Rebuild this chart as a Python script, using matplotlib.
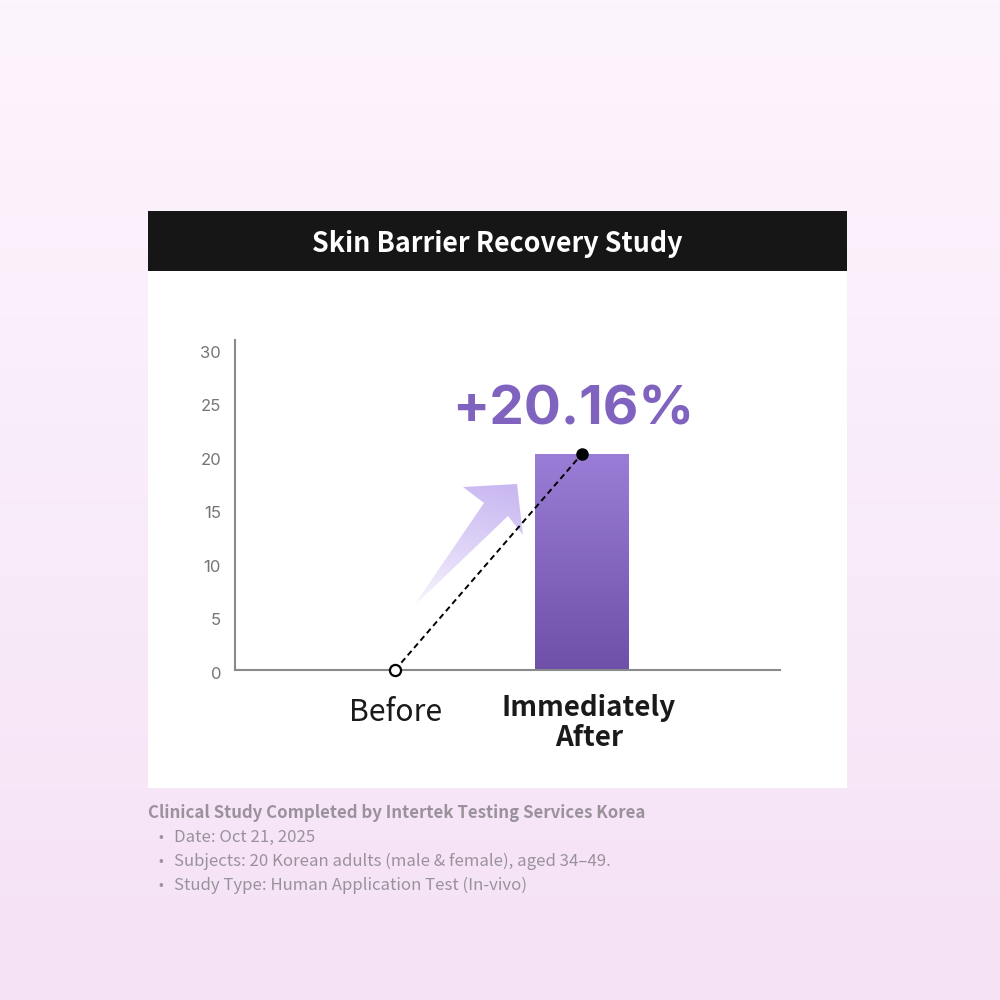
import numpy as np
import matplotlib
matplotlib.use("Agg")
import matplotlib.pyplot as plt
from matplotlib.patches import Rectangle, Polygon
from matplotlib.colors import to_rgb
import matplotlib.transforms as mtransforms

# datos del grafico
categorias = ["Before", "Immediately\nAfter"]
valores = [0, 20.16]
etiqueta_cambio = "+20.16%"
yticks = [0, 5, 10, 15, 20, 25, 30]
titulo = "Skin Barrier Recovery Study"
nota_titulo = "Clinical Study Completed by Intertek Testing Services Korea"
nota_items = ["Date: Oct 21, 2025",
              "Subjects: 20 Korean adults (male & female), aged 34\u201349.",
              "Study Type: Human Application Test (In-vivo)"]

W, H = 1000, 1000
fig = plt.figure(figsize=(10, 10), dpi=100)
fuente = ["Noto Sans CJK KR", "DejaVu Sans"]

def fx(px):
    return px / W

def fy(py):
    return 1 - py / H

def mover(dx, dy):
    # desplazamiento en pixeles
    return mtransforms.ScaledTranslation(dx / 100, -dy / 100, fig.dpi_scale_trans)

# fondo degradado
bg = fig.add_axes([0, 0, 1, 1])
bg.set_axis_off()
top = np.array(to_rgb("#fdf5fd"))
bot = np.array(to_rgb("#f5e2f5"))
t = np.linspace(0, 1, 256)[:, None]
grad = (top * (1 - t) + bot * t)[:, None, :]
bg.imshow(grad, extent=[0, 1, 0, 1], aspect="auto", origin="upper")
bg.set_xlim(0, 1)
bg.set_ylim(0, 1)

# tarjeta blanca y cabecera negra
bg.add_patch(Rectangle((fx(148), fy(788)), fx(847) - fx(148), fy(271) - fy(788),
                       facecolor="white", edgecolor="none"))
bg.add_patch(Rectangle((fx(148), fy(271)), fx(847) - fx(148), fy(211) - fy(271),
                       facecolor="#161616", edgecolor="none"))
bg.text(fx(497), fy(244), titulo, color="white", fontsize=19.3, fontweight="bold",
        family=fuente, ha="center", va="center")

# notas al pie
gris = "#9a929a"
bg.text(fx(148), fy(813), nota_titulo, color=gris, fontsize=12.1, fontweight="bold",
        family=fuente, ha="left", va="center")
for i, item in enumerate(nota_items):
    yy = fy(837 + 24 * i)
    bg.text(fx(158), yy, "\u2022", color=gris, fontsize=10,
            family=fuente, ha="left", va="center")
    bg.text(fx(174), yy, item, color=gris, fontsize=12.1,
            family=fuente, ha="left", va="center")

# ejes del grafico
ax = fig.add_axes([fx(235), fy(670), fx(780) - fx(235), fy(340) - fy(670)])
ax.patch.set_alpha(0)
x = np.arange(len(categorias))
ax.set_xlim(-0.856, 2.06)
ax.set_ylim(0, 30.8)
for s in ["top", "right"]:
    ax.spines[s].set_visible(False)
for s in ["left", "bottom"]:
    ax.spines[s].set_color("#8a8a8a")
    ax.spines[s].set_linewidth(1.5)
ax.set_yticks(yticks)
ax.set_yticklabels([str(v) for v in yticks], fontsize=12, color="#757575",
                   family=["Inter", "DejaVu Sans"])
ax.tick_params(axis="y", length=0, pad=10)
for lab in ax.get_yticklabels():
    lab.set_transform(lab.get_transform() + mover(0, 3))
ax.set_xticks(x)
ax.set_xticklabels(categorias)
ax.tick_params(axis="x", length=0, pad=14)
labs = ax.get_xticklabels()
labs[0].set(fontsize=21.7, color="#1a1a1a", family=fuente)
labs[0].set_transform(labs[0].get_transform() + mover(1, 8))
labs[1].set(fontsize=20, color="#1a1a1a", fontweight="bold",
            family=fuente, linespacing=1.05)
labs[1].set_transform(labs[1].get_transform() + mover(7, 5))

# barra con degradado
barras = ax.bar(x[1:], valores[1:], width=0.5, color="none", zorder=2)
for b in barras:
    c1 = np.array(to_rgb("#9a7dd6"))
    c2 = np.array(to_rgb("#6e50a9"))
    tt = np.linspace(0, 1, 256)[:, None]
    g = (c1 * (1 - tt) + c2 * tt)[:, None, :]
    im = ax.imshow(g, extent=[b.get_x(), b.get_x() + b.get_width(), 0, b.get_height()],
                   aspect="auto", origin="upper", zorder=2)
    im.set_clip_path(b)

# flecha decorativa (coordenadas de eje)
def ax_pt(px, py):
    return ((px - 235) / 545, (670 - py) / 330)

flecha = [ax_pt(413, 607), ax_pt(484, 503), ax_pt(463, 487), ax_pt(517, 484),
          ax_pt(523, 535), ax_pt(508, 516)]
poly = Polygon(flecha, closed=True, transform=ax.transAxes, facecolor="none",
               edgecolor="none")
ax.add_patch(poly)
xs = [p[0] for p in flecha]
ys = [p[1] for p in flecha]
nx, ny = 200, 200
gx, gy = np.meshgrid(np.linspace(min(xs), max(xs), nx), np.linspace(max(ys), min(ys), ny))
t0 = np.array(ax_pt(413, 607))
t1 = np.array(ax_pt(517, 484))
d = t1 - t0
proj = ((gx - t0[0]) * d[0] + (gy - t0[1]) * d[1]) / (d @ d)
proj = np.clip(proj, 0, 1)
rgba = np.zeros((ny, nx, 4))
rgba[..., :3] = to_rgb("#c2aef0")
rgba[..., 3] = 0.05 + 0.85 * proj ** 0.8
im2 = ax.imshow(rgba, extent=[min(xs), max(xs), min(ys), max(ys)], transform=ax.transAxes,
                aspect="auto", zorder=1)
im2.set_clip_path(poly)

# linea punteada y puntos
ax.plot(x, valores, linestyle=(0, (3, 2)), color="black", linewidth=1.4, zorder=3,
        clip_on=False)
ax.plot(x[0], valores[0], marker="o", markersize=8, markerfacecolor="white",
        markeredgecolor="black", markeredgewidth=1.6, zorder=4, clip_on=False)
ax.plot(x[1], valores[1], marker="o", markersize=8, color="black", zorder=4, clip_on=False)

ax.annotate(etiqueta_cambio, xy=(x[1], valores[1]), xytext=(-6.5, 21), textcoords="offset points",
            ha="center", va="baseline", fontsize=39.5, fontweight="bold", color="#7f63bf",
            family=["Inter", "DejaVu Sans"], zorder=5)

fig.savefig("out.png", dpi=100)
